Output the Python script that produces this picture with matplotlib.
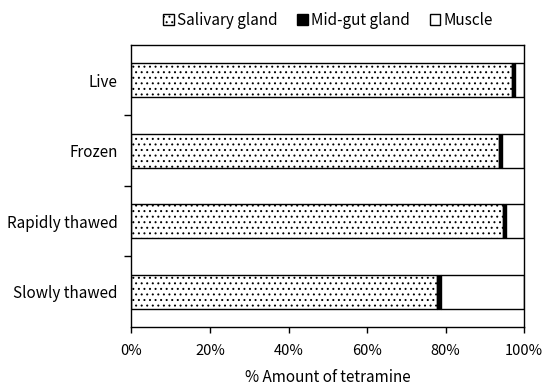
import numpy as np
import matplotlib.pyplot as plt
from matplotlib.patches import Patch

plt.rcParams['font.family'] = ['Noto Sans CJK JP', 'DejaVu Sans']
plt.rcParams['hatch.linewidth'] = 0.7

# data (percent of total tetramine)
categories = ['Live', 'Frozen', 'Rapidly thawed', 'Slowly thawed']
salivary = [96.9, 93.7, 94.5, 77.8]
midgut = [0.7, 0.7, 0.9, 1.1]
muscle = [100 - s - m for s, m in zip(salivary, midgut)]
series_names = ['Salivary gland', 'Mid-gut gland', 'Muscle']

fig = plt.figure(figsize=(5.5, 3.91), dpi=100)
ax = fig.add_axes([0.239, 0.164, 0.714, 0.721])

y = np.arange(len(categories))
h = 0.48
ax.barh(y, salivary, height=h, color='white', edgecolor='black', hatch='...', linewidth=1.0)
ax.barh(y, midgut, left=salivary, height=h, color='black', edgecolor='black', linewidth=1.0)
left2 = np.array(salivary) + np.array(midgut)
ax.barh(y, muscle, left=left2, height=h, color='white', edgecolor='black', linewidth=1.0)

ax.set_ylim(len(categories) - 0.5, -0.5)
ax.set_xlim(0, 100)

ax.set_yticks(y)
ax.set_yticklabels(categories, fontsize=11)
ax.tick_params(axis='y', length=0, pad=10)
ax.set_yticks(np.arange(0.5, len(categories) - 0.5, 1), minor=True)
ax.tick_params(axis='y', which='minor', length=5, direction='out', width=1)

ax.set_xticks(np.arange(0, 101, 20))
ax.set_xticklabels([f'{v}%' for v in range(0, 101, 20)], fontsize=10.5)
ax.tick_params(axis='x', length=4, width=1, direction='out', pad=8)
ax.set_xlabel('% Amount of tetramine', fontsize=11, labelpad=8)

for sp in ax.spines.values():
    sp.set_linewidth(1.0)

handles = [Patch(facecolor='white', edgecolor='black', hatch='...'),
           Patch(facecolor='black', edgecolor='black'),
           Patch(facecolor='white', edgecolor='black')]
ax.legend(handles, series_names, loc='lower center', bbox_to_anchor=(0.5, 1.035),
          ncol=3, frameon=False, fontsize=11, handlelength=0.7, handleheight=0.7,
          handletextpad=0.2, columnspacing=1.3, borderaxespad=0)

fig.savefig('out.png', dpi=100)
